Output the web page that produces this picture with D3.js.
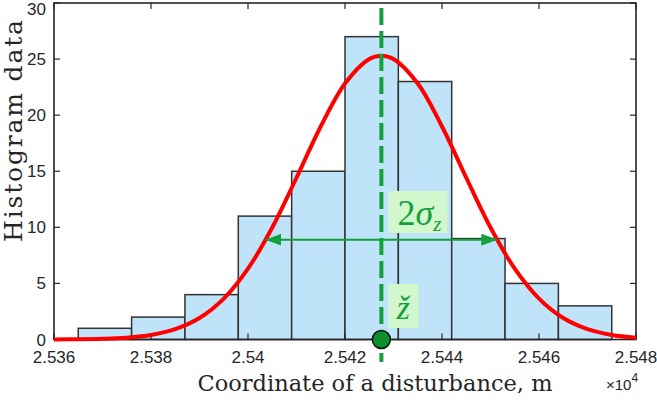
<!DOCTYPE html>
<html><head><meta charset="utf-8">
<script src="https://cdn.jsdelivr.net/npm/d3@7"></script>
<style>body{margin:0;background:#fff}svg{display:block}</style>
</head><body>
<script>
// ---- data (x in units of 10^4 m) ----
const binEdges = [2.5365, 2.5376, 2.5387, 2.5398, 2.5409, 2.5420, 2.5431, 2.5442, 2.5453, 2.5464, 2.5475];
const counts = [1, 2, 4, 11, 15, 27, 23, 9, 5, 3];
const fitX = [2.5360, 2.5365, 2.5370, 2.5375, 2.5380, 2.5385, 2.5390, 2.5395, 2.5400, 2.5405, 2.5410, 2.5415, 2.5420, 2.5425, 2.54275, 2.5430, 2.5435, 2.5440, 2.5445, 2.5450, 2.5455, 2.5460, 2.5465, 2.5470, 2.5475, 2.5480];
const fitY = [0.01, 0.02, 0.06, 0.16, 0.40, 0.92, 1.91, 3.64, 6.31, 9.98, 14.42, 18.99, 22.82, 25.01, 25.30, 25.01, 22.82, 18.99, 14.42, 9.98, 6.31, 3.64, 1.91, 0.92, 0.40, 0.16];
const meanZ = 2.54275;
const arrowSpan = [2.54036, 2.54514];
const arrowLevel = 8.9;
const xTicks = [2.536, 2.538, 2.54, 2.542, 2.544, 2.546, 2.548];
const xTickLabels = ["2.536", "2.538", "2.54", "2.542", "2.544", "2.546", "2.548"];
const yTicks = [0, 5, 10, 15, 20, 25, 30];

const W = 657, H = 400;
const L = 54, R = 636, T = 3, B = 339.5;
const svg = d3.select("body").append("svg").attr("width", W).attr("height", H);
const x = d3.scaleLinear().domain([2.536, 2.548]).range([L, R]);
const y = d3.scaleLinear().domain([0, 30]).range([B, T]);

const defs = svg.append("defs");
defs.append("marker").attr("id", "ah").attr("viewBox", "0 0 16 12")
  .attr("refX", 16).attr("refY", 6).attr("markerWidth", 16).attr("markerHeight", 12)
  .attr("markerUnits", "userSpaceOnUse").attr("orient", "auto-start-reverse")
  .append("path").attr("d", "M0,0 L16,6 L0,12 Z").attr("fill", "#13a03c");

// bars
svg.append("g").selectAll("rect").data(counts).join("rect")
  .attr("x", (d, i) => x(binEdges[i]))
  .attr("width", (d, i) => x(binEdges[i + 1]) - x(binEdges[i]))
  .attr("y", d => y(d)).attr("height", d => y(0) - y(d))
  .attr("fill", "#bfe3f9").attr("stroke", "#333").attr("stroke-width", 1.5);

// axes box
const ax = svg.append("g").attr("font-family", "'Liberation Sans', Arial, sans-serif").attr("font-size", 17).attr("fill", "#262626");
ax.append("rect").attr("x", L).attr("y", T).attr("width", R - L).attr("height", B - T)
  .attr("fill", "none").attr("stroke", "#262626").attr("stroke-width", 1.6);
xTicks.forEach((t, i) => {
  ax.append("line").attr("x1", x(t)).attr("x2", x(t)).attr("y1", B).attr("y2", B - 6).attr("stroke", "#262626").attr("stroke-width", 1.2);
  ax.append("line").attr("x1", x(t)).attr("x2", x(t)).attr("y1", T).attr("y2", T + 6).attr("stroke", "#262626").attr("stroke-width", 1.2);
  ax.append("text").attr("x", x(t)).attr("y", 363).attr("text-anchor", "middle").text(xTickLabels[i]);
});
yTicks.forEach(t => {
  ax.append("line").attr("x1", L).attr("x2", L + 6).attr("y1", y(t)).attr("y2", y(t)).attr("stroke", "#262626").attr("stroke-width", 1.2);
  ax.append("line").attr("x1", R).attr("x2", R - 6).attr("y1", y(t)).attr("y2", y(t)).attr("stroke", "#262626").attr("stroke-width", 1.2);
  ax.append("text").attr("x", 46).attr("y", Math.max(y(t) + 6, 15)).attr("text-anchor", "end").text(t);
});
// exponent
const ex = ax.append("text").attr("x", 606).attr("y", 390).attr("font-size", 15);
ex.append("tspan").text("×10");
ex.append("tspan").attr("dy", -8).attr("font-size", 12).text("4");

// axis titles
svg.append("text").attr("x", 375).attr("y", 391).attr("text-anchor", "middle")
  .attr("font-family", "'DejaVu Serif', serif").attr("font-size", 22.5).attr("fill", "#262626")
  .text("Coordinate of a disturbance, m");
svg.append("text").attr("transform", "translate(22,131) rotate(-90)").attr("text-anchor", "middle")
  .attr("font-family", "'DejaVu Serif', serif").attr("font-size", 25).attr("fill", "#262626")
  .attr("textLength", 222).attr("lengthAdjust", "spacing")
  .text("Histogram data");

// fitted curve
const pts = fitX.map((v, i) => [v, fitY[i]]);
svg.append("path").datum(pts)
  .attr("d", d3.line().x(d => x(d[0])).y(d => y(d[1])).curve(d3.curveCatmullRom))
  .attr("fill", "none").attr("stroke", "#ff0000").attr("stroke-width", 4);

// dashed mean line
const xm = x(meanZ);
svg.append("line").attr("x1", xm).attr("x2", xm).attr("y1", 8).attr("y2", 362)
  .attr("stroke", "#13a03c").attr("stroke-width", 4).attr("stroke-dasharray", "17,6");

// 2 sigma arrow
svg.append("line").attr("x1", x(arrowSpan[0])).attr("x2", x(arrowSpan[1]))
  .attr("y1", y(arrowLevel)).attr("y2", y(arrowLevel))
  .attr("stroke", "#13a03c").attr("stroke-width", 2)
  .attr("marker-start", "url(#ah)").attr("marker-end", "url(#ah)");

// labels
svg.append("rect").attr("x", xm + 7).attr("y", 191).attr("width", 59).attr("height", 42).attr("fill", "#d3f7cc");
const sg = svg.append("text").attr("x", xm + 16).attr("y", 225).attr("fill", "#13a03c")
  .attr("font-family", "'Liberation Serif', serif").attr("font-size", 36);
sg.append("tspan").text("2");
sg.append("tspan").attr("font-style", "italic").text("σ");
sg.append("tspan").attr("font-style", "italic").attr("font-size", 21).attr("dy", 6).text("z");

svg.append("rect").attr("x", xm + 7).attr("y", 284).attr("width", 30).attr("height", 44).attr("fill", "#d3f7cc");
svg.append("text").attr("x", xm + 22).attr("y", 319).attr("text-anchor", "middle").attr("fill", "#13a03c")
  .attr("font-family", "'Liberation Serif', serif").attr("font-size", 34).attr("font-style", "italic")
  .text("ž");

// mean marker
svg.append("circle").attr("cx", xm).attr("cy", y(0)).attr("r", 9)
  .attr("fill", "#0e8f2e").attr("stroke", "#111").attr("stroke-width", 1.5);
</script>
</body></html>
